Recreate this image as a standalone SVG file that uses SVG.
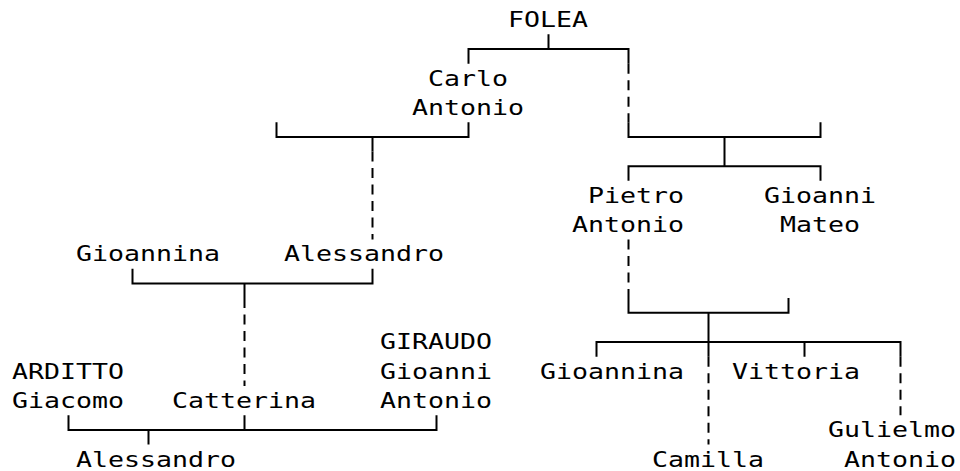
<svg xmlns="http://www.w3.org/2000/svg" width="960" height="471" viewBox="0 0 960 471">
<style>
text{font-family:"DejaVu Sans Mono","Liberation Mono",monospace;font-size:21px;fill:#000}
.s{fill:none;stroke:#000;stroke-width:2}
.d{fill:none;stroke:#000;stroke-width:2;stroke-dasharray:10 6.5}
</style>
<rect width="960" height="471" fill="#fff"/>
<g id="connectors">
<path class="s" d="M548.5,34.35V49M468.5,63.65V49H628.5V63.65"/>
<path class="d" d="M628.5,63.65V122.25"/>
<path class="s" d="M628.5,122.25V136.9H820.5V122.25M724.5,136.9V166.2M628.5,180.85V166.2H820.5V180.85"/>
<path class="s" d="M276.5,122.25V136.9H468.5V122.25M372.5,136.9V151.55"/>
<path class="d" d="M372.5,151.55V239.45"/>
<path class="s" d="M132.5,268.75V283.4H372.5V268.75M244.5,283.4V298.05"/>
<path class="d" d="M244.5,298.05V385.95"/>
<path class="s" d="M68.5,415.25V429.9H436.5V415.25M244.5,415.25V429.9M148.5,429.9V444.55"/>
<path class="d" d="M628.5,239.45V298.05"/>
<path class="s" d="M628.5,298.05V312.7H788.5V298.05M708.5,312.7V356.65"/>
<path class="d" d="M708.5,356.65V444.55"/>
<path class="s" d="M596.5,356.65V342H900.5V356.65M804.5,342V356.65"/>
<path class="d" d="M900.5,356.65V415.25"/>
</g>
<g id="folea"><text x="508" y="27" textLength="80" lengthAdjust="spacingAndGlyphs">FOLEA</text></g>
<g id="carlo-antonio"><text x="428" y="85.6" textLength="80" lengthAdjust="spacingAndGlyphs">Carlo</text><text x="412" y="114.9" textLength="112" lengthAdjust="spacingAndGlyphs">Antonio</text></g>
<g id="pietro-antonio"><text x="588" y="202.8" textLength="96" lengthAdjust="spacingAndGlyphs">Pietro</text><text x="572" y="232.1" textLength="112" lengthAdjust="spacingAndGlyphs">Antonio</text></g>
<g id="gioanni-mateo"><text x="764" y="202.8" textLength="112" lengthAdjust="spacingAndGlyphs">Gioanni</text><text x="780" y="232.1" textLength="80" lengthAdjust="spacingAndGlyphs">Mateo</text></g>
<g id="gioannina-left"><text x="76" y="261.4" textLength="144" lengthAdjust="spacingAndGlyphs">Gioannina</text></g>
<g id="alessandro-mid"><text x="284" y="261.4" textLength="160" lengthAdjust="spacingAndGlyphs">Alessandro</text></g>
<g id="giraudo"><text x="380" y="349.3" textLength="112" lengthAdjust="spacingAndGlyphs">GIRAUDO</text><text x="380" y="378.6" textLength="112" lengthAdjust="spacingAndGlyphs">Gioanni</text><text x="380" y="407.9" textLength="112" lengthAdjust="spacingAndGlyphs">Antonio</text></g>
<g id="arditto"><text x="12" y="378.6" textLength="112" lengthAdjust="spacingAndGlyphs">ARDITTO</text><text x="12" y="407.9" textLength="112" lengthAdjust="spacingAndGlyphs">Giacomo</text></g>
<g id="catterina"><text x="172" y="407.9" textLength="144" lengthAdjust="spacingAndGlyphs">Catterina</text></g>
<g id="alessandro-bottom"><text x="76" y="466.5" textLength="160" lengthAdjust="spacingAndGlyphs">Alessandro</text></g>
<g id="gioannina-right"><text x="540" y="378.6" textLength="144" lengthAdjust="spacingAndGlyphs">Gioannina</text></g>
<g id="vittoria"><text x="732" y="378.6" textLength="128" lengthAdjust="spacingAndGlyphs">Vittoria</text></g>
<g id="camilla"><text x="652" y="466.5" textLength="112" lengthAdjust="spacingAndGlyphs">Camilla</text></g>
<g id="gulielmo-antonio"><text x="828" y="437.2" textLength="128" lengthAdjust="spacingAndGlyphs">Gulielmo</text><text x="844" y="466.5" textLength="112" lengthAdjust="spacingAndGlyphs">Antonio</text></g>
</svg>
